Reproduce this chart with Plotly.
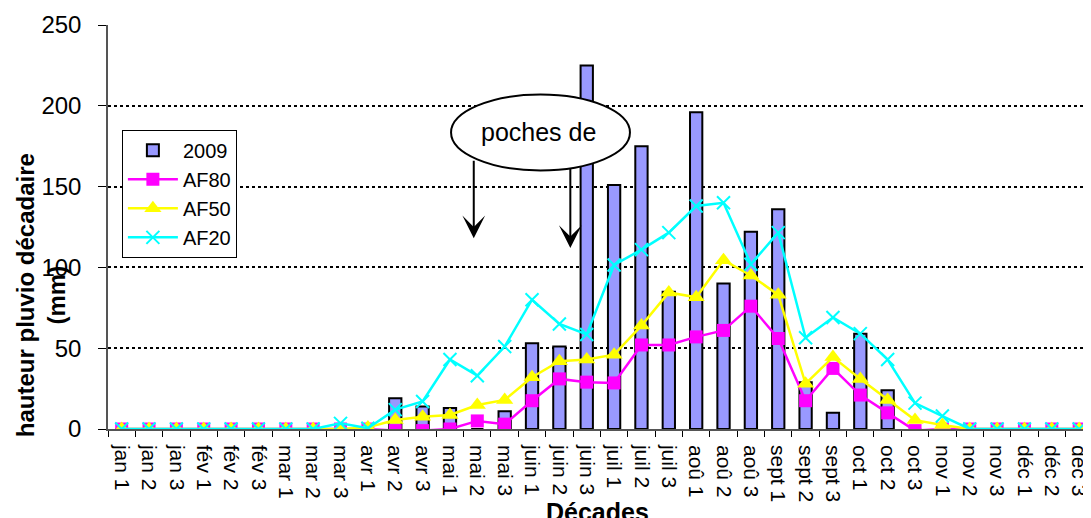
import plotly.graph_objects as go

categories = ["jan 1", "jan 2", "jan 3", "fév 1", "fév 2", "fév 3", "mar 1", "mar 2", "mar 3",
              "avr 1", "avr 2", "avr 3", "mai 1", "mai 2", "mai 3", "juin 1", "juin 2", "juin 3",
              "juil 1", "juil 2", "juil 3", "aoû 1", "aoû 2", "aoû 3", "sept 1", "sept 2", "sept 3",
              "oct 1", "oct 2", "oct 3", "nov 1", "nov 2", "nov 3", "déc 1", "déc 2", "déc 3"]

rain_2009 = [0, 0, 0, 0, 0, 0, 0, 0, 0,
             0, 19, 14, 13, 0, 11, 53, 51, 225,
             151, 175, 85, 196, 90, 122, 136, 29, 10,
             59, 24, 0, 0, 0, 0, 0, 0, 0]

af80 = [0, 0, 0, 0, 0, 0, 0, 0, 0,
        0, -1, -1, 0, 5, 3, 17.5, 31, 29,
        28.5, 52, 52, 57, 61, 76, 56, 17.5, 37.5,
        21, 10, -1, 0, 0, 0, 0, 0, 0]

af50 = [0, 0, 0, 0, 0, 0, 0, 0, 0,
        1, 5.6, 7.6, 8.7, 14.8, 18, 32, 42, 43,
        46, 64, 84.5, 81.5, 104.5, 95, 83, 28, 44.5,
        31, 18, 5.5, 2.5, 0, 0, 0, 0, 0]

af20 = [0, 0, 0, 0, 0, 0, 0, 0, 3.5,
        0.5, 12, 17, 43, 33, 51, 80, 65, 58.5,
        101.5, 111, 121.5, 138, 140, 102, 121.5, 56.5, 69,
        59, 43, 16, 8, 0, 0, 0, 0, 0]

y_ticks = [0, 50, 100, 150, 200, 250]

FONT = "Arial, Liberation Sans, sans-serif"

fig = go.Figure()
fig.add_trace(go.Bar(x=categories, y=rain_2009, name="2009", width=0.45,
                     marker=dict(color="#9999FF", line=dict(color="black", width=2))))
fig.add_trace(go.Scatter(x=categories, y=af80, name="AF80", mode="lines+markers",
                         line=dict(color="#FF00FF", width=2.5),
                         marker=dict(symbol="square", size=13, color="#FF00FF")))
fig.add_trace(go.Scatter(x=categories, y=af50, name="AF50", mode="lines+markers",
                         line=dict(color="#FFFF00", width=2.5),
                         marker=dict(symbol="triangle-up", size=15, color="#FFFF00")))
fig.add_trace(go.Scatter(x=categories, y=af20, name="AF20", mode="lines+markers",
                         line=dict(color="#00FFFF", width=2.5),
                         marker=dict(symbol="x-thin", size=13, color="#00FFFF",
                                     line=dict(color="#00FFFF", width=2))))

# "poches de" ellipse and arrows
fig.add_shape(type="circle", xref="x", yref="y", x0=12.04, x1=18.58, y0=160, y1=207,
              fillcolor="white", line=dict(color="black", width=2), layer="above")
fig.add_annotation(x=15.25, y=184, xref="x", yref="y", text="poches de", showarrow=False,
                   font=dict(family=FONT, size=25, color="black"))
for xa, ytip, ytail in [(12.87, 118, 167), (16.4, 112, 162)]:
    fig.add_annotation(x=xa, y=ytip, ax=xa, ay=ytail, xref="x", yref="y", axref="x", ayref="y",
                       text="", showarrow=True, arrowhead=3, arrowsize=1.9, arrowwidth=2,
                       arrowcolor="black")

fig.add_annotation(xref="paper", yref="paper", x=-0.069, y=0.33,
                   text="<b>hauteur pluvio décadaire</b><br><b>(mm)</b>",
                   textangle=-90, showarrow=False, xanchor="center", yanchor="middle",
                   font=dict(family=FONT, size=24, color="black"))
fig.add_annotation(xref="paper", yref="paper", x=0.50, y=-0.205, text="<b>Décades</b>",
                   showarrow=False, xanchor="center", yanchor="middle",
                   font=dict(family=FONT, size=25, color="black"))

fig.update_layout(
    width=1083, height=510,
    margin=dict(l=100, r=0, t=17, b=89),
    paper_bgcolor="white", plot_bgcolor="white",
    font=dict(family=FONT, color="black"),
    barmode="overlay",
    showlegend=True,
    legend=dict(x=0.0142, y=0.582, xanchor="left", yanchor="middle",
                bgcolor="white", bordercolor="black", borderwidth=1,
                font=dict(family=FONT, size=20, color="black"),
                traceorder="normal", itemwidth=50, tracegroupgap=0),
    xaxis=dict(type="category", range=[-0.5, 35.25], tickangle=90, tickson="boundaries",
               ticks="outside", ticklen=6, tickcolor="black", ticklabelstandoff=10,
               showline=True, linecolor="#555555", linewidth=1.5, showgrid=False,
               tickfont=dict(family=FONT, size=21, color="black")),
    yaxis=dict(range=[0, 250], tickvals=y_ticks, ticks="outside", ticklen=8, tickcolor="black",
               ticklabelstandoff=12,
               showline=True, linecolor="#555555", linewidth=1.5,
               showgrid=True, gridcolor="black", griddash="dot", gridwidth=1.5,
               zeroline=False, tickfont=dict(family=FONT, size=24, color="black")),
)

fig.write_html("out.html")
